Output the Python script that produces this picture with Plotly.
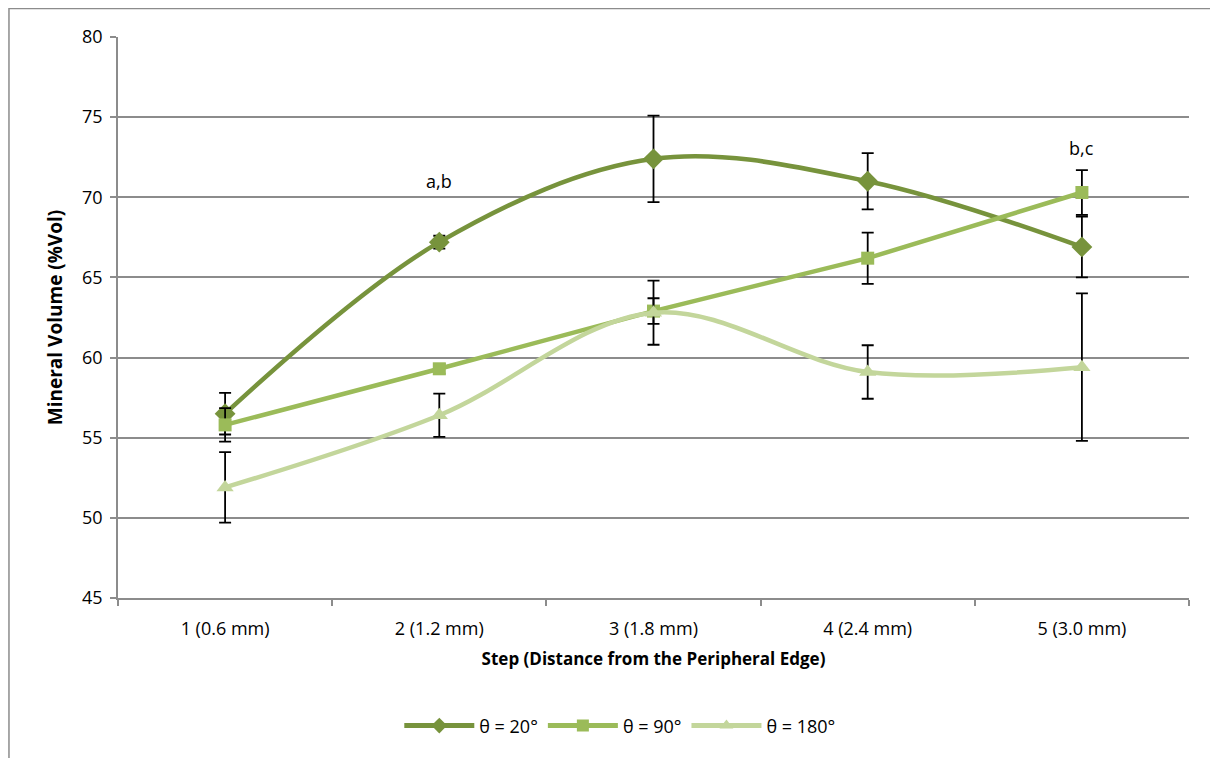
import plotly.graph_objects as go

categories = ["1 (0.6 mm)", "2 (1.2 mm)", "3 (1.8 mm)", "4 (2.4 mm)", "5 (3.0 mm)"]
steps = [1, 2, 3, 4, 5]

theta20 = [56.5, 67.2, 72.4, 71.0, 66.9]
theta20_err = [1.3, 0.4, 2.7, 1.75, 1.9]
theta90 = [55.8, 59.3, 62.9, 66.2, 70.3]
theta90_err = [1.05, 0.3, 0.8, 1.6, 1.4]
theta180 = [51.9, 56.4, 62.8, 59.1, 59.4]
theta180_err = [2.2, 1.35, 2.0, 1.67, 4.6]

annot_text = ["a,b", "b,c"]
annot_steps = [2, 5]
annot_y = [71.0, 73.1]

font_family = "Open Sans, Liberation Sans, sans-serif"

fig = go.Figure()

def add_series(y, err, name, color, symbol, size, shape):
    fig.add_trace(go.Scatter(
        x=steps, y=y, name=name, mode="lines+markers",
        line=dict(color=color, width=4.5, shape=shape, smoothing=1.0),
        marker=dict(symbol=symbol, size=size, color=color),
        error_y=dict(type="data", array=err, visible=True, color="black", thickness=1.8, width=6),
    ))

add_series(theta20, theta20_err, "θ = 20°", "#77933C", "diamond", 16, "spline")
add_series(theta90, theta90_err, "θ = 90°", "#9BBB59", "square", 13, "linear")
add_series(theta180, theta180_err, "θ = 180°", "#C3D69B", "triangle-up", 15, "spline")

for t, s, yv in zip(annot_text, annot_steps, annot_y):
    fig.add_annotation(x=s, y=yv, text=t, showarrow=False,
                       font=dict(size=18, color="black", family=font_family))

# outer chart border
fig.add_shape(type="rect", xref="paper", yref="paper",
              x0=-0.1018, x1=1.0261, y0=-0.5, y1=1.0508,
              line=dict(color="#8c8c8c", width=1.5), fillcolor="rgba(0,0,0,0)", layer="below")

fig.update_layout(
    width=1210, height=750,
    margin=dict(l=110, r=29, t=29, b=160),
    paper_bgcolor="white", plot_bgcolor="white",
    font=dict(family=font_family, size=18, color="black"),
    showlegend=True,
    legend=dict(orientation="h", x=0.469, xanchor="center", y=-0.228, yanchor="middle",
                font=dict(size=18, family=font_family), itemwidth=70, traceorder="normal",
                itemsizing="constant"),
    xaxis=dict(
        range=[0.5, 5.5], tickmode="array", tickvals=steps, ticktext=categories,
        ticks="", showgrid=False, showline=True, linecolor="#8c8c8c", linewidth=1.5,
        zeroline=False, ticklabelstandoff=14,
        minor=dict(tick0=0.5, dtick=1, ticks="outside", ticklen=6, tickcolor="#8c8c8c", tickwidth=1.5, showgrid=False),
        title=dict(text="<b>Step (Distance from the Peripheral Edge)</b>", font=dict(size=17), standoff=14),
        tickfont=dict(size=18),
    ),
    yaxis=dict(
        range=[45, 80], tick0=45, dtick=5, ticks="outside", ticklen=6, tickcolor="#8c8c8c", tickwidth=1.5,
        showgrid=True, gridcolor="#8c8c8c", gridwidth=1.5, ticklabelstandoff=4,
        showline=True, linecolor="#8c8c8c", linewidth=1.5, zeroline=False,
        title=dict(text="<b>Mineral Volume (%Vol)</b>", font=dict(size=19), standoff=14),
        tickfont=dict(size=18),
    ),
)

fig.write_html("out.html")
